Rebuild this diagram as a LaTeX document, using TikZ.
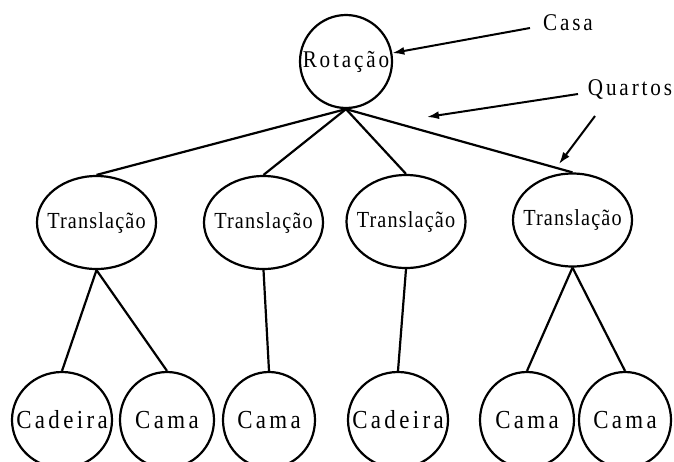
\documentclass[tikz,border=0pt]{standalone}
\usepackage{fontspec}
\setmainfont{Liberation Serif}
\newfontfamily\wideface[LetterSpace=12,FakeStretch=0.88]{Liberation Serif}
\newfontfamily\leafface[LetterSpace=13,FakeStretch=0.88]{Liberation Serif}
\newfontfamily\midface[LetterSpace=5,FakeStretch=0.88]{Liberation Serif}
\usetikzlibrary{shapes.geometric,arrows.meta}
\begin{document}
\begin{tikzpicture}[x=1pt,y=-1pt,
  line width=2.2pt,
  blob/.style={draw,ellipse,inner sep=0pt,line width=2.2pt},
  rootnode/.style={blob,minimum width=92pt,minimum height=93pt,font=\wideface\fontsize{24}{28}\selectfont},
  midnode/.style={blob,minimum width=119pt,minimum height=93pt,font=\midface\fontsize{23}{27}\selectfont},
  leafnode/.style={blob,minimum height=96pt,font=\leafface\fontsize{26}{30}\selectfont},
  label/.style={inner sep=0pt,font=\wideface\fontsize{24}{28}\selectfont,anchor=base},
  arr/.style={-{Latex[length=12pt,width=8pt]},line width=2pt},
  edge/.style={line width=2.2pt}
]
\useasboundingbox (0,0) rectangle (674,461);
\clip (0,0) rectangle (674,461);

\node[rootnode] (root) at (346,61.5) {\makebox[0pt]{Rotação}};

\node[midnode] (t1) at (96.5,222.5) {\makebox[0pt]{Translação}};
\node[midnode] (t2) at (263.5,222.5) {\makebox[0pt]{Translação}};
\node[midnode] (t3) at (406,221.5) {\makebox[0pt]{Translação}};
\node[midnode] (t4) at (572.5,220) {\makebox[0pt]{Translação}};

\node[leafnode,minimum width=100pt] (l1) at (62,420) {\makebox[0pt]{Cadeira}};
\node[leafnode,minimum width=94pt] (l2) at (167,420) {\makebox[0pt]{Cama}};
\node[leafnode,minimum width=92pt] (l3) at (269,420) {\makebox[0pt]{Cama}};
\node[leafnode,minimum width=100pt] (l4) at (398,420) {\makebox[0pt]{Cadeira}};
\node[leafnode,minimum width=94pt] (l5) at (527,420) {\makebox[0pt]{Cama}};
\node[leafnode,minimum width=92pt] (l6) at (625,420) {\makebox[0pt]{Cama}};

\draw[edge] (root.south) -- (t1.north);
\draw[edge] (root.south) -- (t2.north);
\draw[edge] (root.south) -- (t3.north);
\draw[edge] (root.south) -- (t4.north);

\draw[edge] (t1.south) -- (l1.north);
\draw[edge] (t1.south) -- (l2.north);
\draw[edge] (t2.south) -- (l3.north);
\draw[edge] (t3.south) -- (l4.north);
\draw[edge] (t4.south) -- (l5.north);
\draw[edge] (t4.south) -- (l6.north);

\node[label] (casa) at (568,30) {Casa};
\node[label] (quartos) at (630,95) {Quartos};

\coordinate (casatail) at (530,28);
\coordinate (qtailA) at (578,94);
\coordinate (qtipA) at (427,117);
\coordinate (qtailB) at (595,116);
\coordinate (qtipB) at (559,164);

\draw[arr] (casatail) -- (root);
\draw[arr] (qtailA) -- (qtipA);
\draw[arr] (qtailB) -- (qtipB);
\end{tikzpicture}
\end{document}
